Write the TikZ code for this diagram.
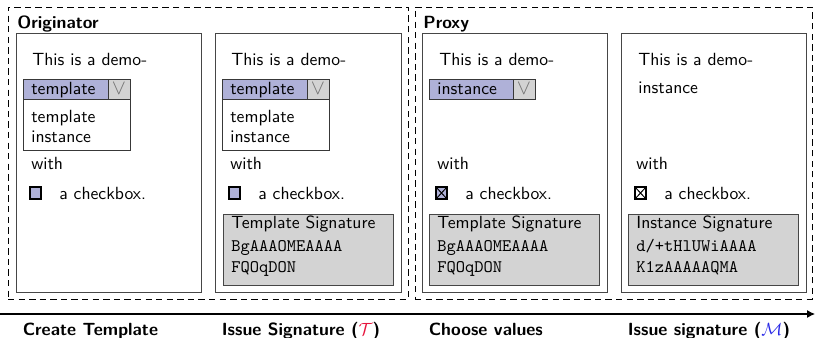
\documentclass[tikz,border=0pt]{standalone}
\usepackage{fontspec}
\usetikzlibrary{fit,arrows.meta}
\renewcommand{\familydefault}{\sfdefault}

\definecolor{fieldblue}{RGB}{175,177,216}
\definecolor{siggray}{RGB}{211,211,211}
\definecolor{panelline}{RGB}{70,70,70}
\definecolor{tcol}{RGB}{230,20,60}
\definecolor{mcol}{RGB}{40,40,230}

\tikzset{
  group/.style={draw=black, dash pattern=on 3.6pt off 2.4pt, inner sep=0pt},
  panel/.style={draw=panelline, line width=0.5pt, inner sep=0pt},
  txt/.style={anchor=base west, inner sep=0pt, font=\sffamily},
  heading/.style={anchor=base west, inner sep=0pt, font=\sffamily\bfseries},
  stage/.style={anchor=base west, inner sep=3.9pt, font=\sffamily\bfseries},
  mono/.style={anchor=base west, inner sep=0pt, font=\ttfamily},
  field/.style={draw=panelline!80!black, fill=fieldblue, inner sep=0pt},
  dropbtn/.style={draw=panelline!80!black, fill=siggray, inner sep=0pt},
  vmark/.style={inner sep=0pt, text=black!55, font=\large},
  droplist/.style={draw=panelline!80!black, fill=white, inner sep=0pt},
  checkbox/.style={draw=black, line width=0.6pt, inner sep=0pt},
  tick/.style={draw=black, line width=0.55pt},
  sigbox/.style={draw=panelline, line width=0.5pt, fill=siggray, inner sep=0pt},
  timeline/.style={draw=black, line width=0.6pt, -{Latex[length=4.5pt,width=4.5pt]}},
}

\begin{document}
\begin{tikzpicture}[x=0.567pt, y=-0.567pt]
\useasboundingbox (0,0) rectangle (815,338);

% the two parties
\node[group, fit={(8,7) (408,299)}] (originator) {};
\node[group, fit={(415,7) (812,299)}] (proxy) {};
\node[heading] (originator-title) at (17,28) {Originator};
\node[heading] (proxy-title) at (423,28) {Proxy};

% step 1: the template being created
\node[panel, fit={(16,33) (201,292)}] (p1) {};
\node[txt] (p1-demo) at (32,65.5) {This is a demo-};
\node[field, fit={(23,79) (108,99)}] (p1-field) {};
\node[txt] (p1-fieldtext) at (31,94) {template};
\node[dropbtn, fit={(108,79) (130,99)}] (p1-btn) {};
\node[vmark] (p1-v) at (p1-btn.center) {$\vee$};
\node[droplist, fit={(23,99) (130,150)}] (p1-list) {};
\node[txt] (p1-opt1) at (31,122) {template};
\node[txt] (p1-opt2) at (31,142) {instance};
\node[txt] (p1-with) at (31,169) {with};
\node[checkbox, fill=fieldblue, fit={(30,187) (41,199)}] (p1-cb) {};
\node[txt] (p1-cbtext) at (59,199) {a checkbox.};

% step 2: the template with its signature
\begin{scope}[shift={(199,0)}]
\node[panel, fit={(16,33) (202,292)}] (p2) {};
\node[txt] (p2-demo) at (32,65.5) {This is a demo-};
\node[field, fit={(23,79) (108,99)}] (p2-field) {};
\node[txt] (p2-fieldtext) at (31,94) {template};
\node[dropbtn, fit={(108,79) (130,99)}] (p2-btn) {};
\node[vmark] (p2-v) at (p2-btn.center) {$\vee$};
\node[droplist, fit={(23,99) (130,150)}] (p2-list) {};
\node[txt] (p2-opt1) at (31,122) {template};
\node[txt] (p2-opt2) at (31,142) {instance};
\node[txt] (p2-with) at (31,169) {with};
\node[checkbox, fill=fieldblue, fit={(30,187) (41,199)}] (p2-cb) {};
\node[txt] (p2-cbtext) at (59,199) {a checkbox.};
\node[sigbox, fit={(24,214) (194,285)}] (p2-sig) {};
\node[txt] (p2-sigtitle) at (32,228) {Template Signature};
\node[mono] (p2-sig1) at (32,251) {BgAAAOMEAAAA};
\node[mono] (p2-sig2) at (32,272) {FQOqDON};
\end{scope}

% step 3: values chosen by the proxy
\begin{scope}[shift={(406,0)}]
\node[panel, fit={(16,33) (201,292)}] (p3) {};
\node[txt] (p3-demo) at (33,65.5) {This is a demo-};
\node[field, fit={(23,79) (107,99)}] (p3-field) {};
\node[txt] (p3-fieldtext) at (31,94) {instance};
\node[dropbtn, fit={(107,79) (129,99)}] (p3-btn) {};
\node[vmark] (p3-v) at (p3-btn.center) {$\vee$};
\node[txt] (p3-with) at (31,169) {with};
\node[checkbox, fill=fieldblue, fit={(30,187) (41,199)}] (p3-cb) {};
\draw[tick] (p3-cb.north west) -- (p3-cb.south east)
            (p3-cb.south west) -- (p3-cb.north east);
\node[txt] (p3-cbtext) at (59,199) {a checkbox.};
\node[sigbox, fit={(23,214) (193,285)}] (p3-sig) {};
\node[txt] (p3-sigtitle) at (31,228) {Template Signature};
\node[mono] (p3-sig1) at (31,251) {BgAAAOMEAAAA};
\node[mono] (p3-sig2) at (31,272) {FQOqDON};
\end{scope}

% step 4: the finished instance
\begin{scope}[shift={(605,0)}]
\node[panel, fit={(16,33) (201,292)}] (p4) {};
\node[txt] (p4-demo) at (33,65.5) {This is a demo-};
\node[txt] (p4-value) at (33,93) {instance};
\node[txt] (p4-with) at (31,169) {with};
\node[checkbox, fill=white, fit={(30,187) (41,199)}] (p4-cb) {};
\draw[tick] (p4-cb.north west) -- (p4-cb.south east)
            (p4-cb.south west) -- (p4-cb.north east);
\node[txt] (p4-cbtext) at (59,199) {a checkbox.};
\node[sigbox, fit={(23,214) (193,285)}] (p4-sig) {};
\node[txt] (p4-sigtitle) at (31,228) {Instance Signature};
\node[mono] (p4-sig1) at (31,251) {d/+tHlUWiAAAA};
\node[mono] (p4-sig2) at (31,272) {K1zAAAAAQMA};
\end{scope}

% time line with the four stages
\coordinate (tl-start) at (0,314);
\coordinate (tl-end) at (815,314);
\coordinate (stage-base) at (0,335);
\draw[timeline] (tl-start) -- (tl-end);
\node[stage] (s1) at (p1.west |- stage-base) {Create Template};
\node[stage] (s2) at (p2.west |- stage-base) {Issue Signature (\textcolor{tcol}{$\mathcal{T}$})};
\node[stage] (s3) at (p3.west |- stage-base) {Choose values};
\node[stage] (s4) at (p4.west |- stage-base) {Issue signature (\textcolor{mcol}{$\mathcal{M}$})};
\end{tikzpicture}
\end{document}
